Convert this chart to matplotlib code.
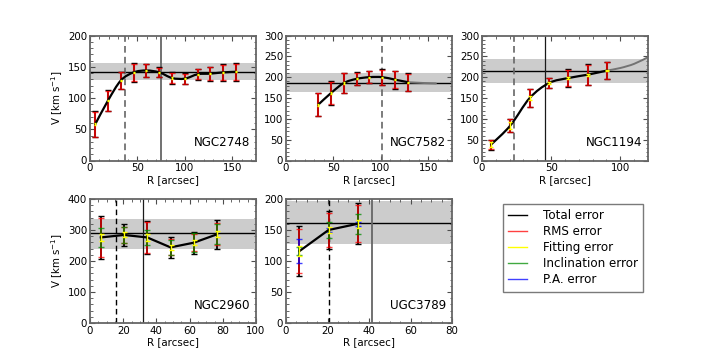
import numpy as np
import matplotlib
matplotlib.use("Agg")
import matplotlib.pyplot as plt
from matplotlib.path import Path
from matplotlib.patches import PathPatch
from matplotlib.lines import Line2D
from matplotlib.ticker import AutoMinorLocator, MultipleLocator

# ---------------- data ----------------
# NGC2748
r1 = [5.5, 19, 32.5, 46, 59.5, 73, 86.5, 100, 113.5, 127, 140.5, 154]
v1 = [58, 96, 128, 141, 144, 141, 132, 131, 138, 139, 141, 142]
tot1 = [21, 17, 14, 15, 11, 8, 9, 9, 9, 11, 13, 14]
rms1 = [20, 16, 13, 14, 10, 7, 8, 8, 8, 10.5, 12, 13]
fit1 = [1.5, 1.5, 1, 1, 1, 1, 1, 1, 1, 1, 1, 1]
vflat1, band1 = 142, (129, 156)
dash1, solid1 = 37, 75

# NGC7582
r2 = [34, 47.5, 61, 74.5, 88, 101.5, 115, 128.5]
v2 = [134, 162, 186, 196, 200, 200, 194, 188]
tot2 = [28, 28, 25, 15.5, 15, 19, 22, 21]
rms2 = [27, 27, 24, 14.5, 14, 18, 21, 20]
fit2 = [2, 2, 1.5, 1.5, 1.5, 1.5, 1.5, 1.5]
r2_ext = [128.5, 145, 158]
v2_ext = [188, 186, 185]
vflat2, band2 = 186, (165, 209)
dash2 = 101.7

# NGC1194
r3 = [6.5, 20.5, 34.5, 48.5, 62.5, 76.5, 90.5]
v3 = [38, 84, 150, 186, 198, 206, 216]
tot3 = [12, 16, 22, 12, 21, 25, 21]
rms3 = [11, 15, 21, 11, 20, 24, 20]
fit3 = [6, 8, 4, 3, 2, 2, 2]
r3_ext = [90.5, 100, 110, 120]
v3_ext = [216, 222, 232, 248]
vflat3, band3 = 215, (187, 243)
dash3, solid3 = 22.9, 45.3

# NGC2960
r4 = [6.5, 20.5, 34.5, 48.5, 62.5, 76.5]
v4 = [276, 284, 276, 244, 259, 286]
tot4 = [69, 36, 53, 35, 36, 47]
rms4 = [64, 25, 49, 26, 27, 35]
inc4 = [31, 27, 25, 25, 30, 32]
fit4 = [11, 8, 10, 8, 8, 10]
vflat4, band4 = 289, (240, 335)
dash4, solid4 = 15.5, 32

# UGC3789
r5 = [6.5, 20.5, 34.5]
v5 = [116, 150, 160]
tot5 = [40, 30, 33]
rms5 = [36, 27, 30]
pa5 = [20, 3, 3]
inc5 = [6, 13, 16]
fit5 = [8, 5, 6]
vflat5, band5 = 161, (128, 196)
dash5, solid5 = 20.5, 41.5

names = ["NGC2748", "NGC7582", "NGC1194", "NGC2960", "UGC3789"]
legend_labels = ["Total error", "RMS error", "Fitting error",
                 "Inclination error", "P.A. error"]

C_TOT = "black"
C_RMS = (1.0, 0.0, 0.0, 0.75)
C_FIT = (1.0, 1.0, 0.0, 1.0)
C_INC = (0.0, 0.55, 0.0, 0.75)
C_PA = (0.0, 0.0, 1.0, 0.75)

plt.rcParams["font.family"] = ["DejaVu Sans"]
fig = plt.figure(figsize=(7.2, 3.6), dpi=100)

W = 166 / 720
positions = [
    [90 / 720, 1 - 160.5 / 360, W, 125 / 360],
    [286 / 720, 1 - 160.5 / 360, W, 125 / 360],
    [482 / 720, 1 - 160.5 / 360, W, 125 / 360],
    [90 / 720, 1 - 323 / 360, W, 124 / 360],
    [286 / 720, 1 - 323 / 360, W, 124 / 360],
]


def smooth_curve(ax, x, y, color, lw, z=5):
    """Catmull-Rom curve through the data drawn as a cubic Bezier path."""
    P = np.column_stack([x, y]).astype(float)
    n = len(P)
    verts = [P[0]]
    codes = [Path.MOVETO]
    for i in range(n - 1):
        p0 = P[i - 1] if i > 0 else P[i]
        p1 = P[i]
        p2 = P[i + 1]
        p3 = P[i + 2] if i + 2 < n else P[i + 1]
        c1 = p1 + (p2 - p0) / 6.0
        c2 = p2 - (p3 - p1) / 6.0
        verts += [c1, c2, p2]
        codes += [Path.CURVE4] * 3
    patch = PathPatch(Path(verts, codes), facecolor="none", edgecolor=color,
                      lw=lw, zorder=z, capstyle="round", joinstyle="round")
    ax.add_patch(patch)


def eb(ax, x, y, e, color, lw=1.3, z=3, cap=2.5):
    ax.errorbar(x, y, yerr=e, fmt="none", ecolor=color, elinewidth=lw,
                capsize=cap, capthick=1.0, zorder=z)


def style(ax, xlim, ylim, xmaj, ymaj, ylabel=False):
    ax.set_xlim(*xlim)
    ax.set_ylim(*ylim)
    ax.xaxis.set_major_locator(MultipleLocator(xmaj))
    ax.yaxis.set_major_locator(MultipleLocator(ymaj))
    ax.xaxis.set_minor_locator(AutoMinorLocator())
    ax.yaxis.set_minor_locator(AutoMinorLocator())
    ax.tick_params(which="both", direction="in", top=True, right=True,
                   labelsize=7.4, pad=2, color="0.3")
    ax.tick_params(which="major", length=3.5, width=0.8)
    ax.tick_params(which="minor", length=1.8, width=0.6)
    for s in ax.spines.values():
        s.set_color("0.4")
        s.set_linewidth(1.3)
    ax.set_xlabel("R [arcsec]", fontsize=7.4, labelpad=1)
    if ylabel:
        ax.set_ylabel("V [km s$^{-1}$]", fontsize=7.4, labelpad=2)


axes = [fig.add_axes(p) for p in positions]

# Panel 1
ax = axes[0]
ax.axhspan(*band1, color="0.8", lw=0, zorder=0)
ax.axhline(vflat1, color="black", lw=1.0, zorder=2)
ax.axvline(dash1, color="0.4", lw=1.2, ls=(0, (4, 2.5)), zorder=2)
ax.axvline(solid1, color="0.4", lw=1.3, zorder=2)
eb(ax, r1, v1, tot1, C_TOT)
eb(ax, r1, v1, rms1, C_RMS, lw=1.5)
smooth_curve(ax, r1, v1, "black", 1.6)
eb(ax, r1, v1, fit1, C_FIT, lw=1.0, z=6, cap=1.0)
style(ax, (0, 175), (0, 200), 50, 50, ylabel=True)

# Panel 2
ax = axes[1]
ax.axhspan(*band2, color="0.8", lw=0, zorder=0)
ax.axhline(vflat2, color="black", lw=1.0, zorder=2)
ax.axvline(dash2, color="0.4", lw=1.2, ls=(0, (4, 2.5)), zorder=2)
smooth_curve(ax, r2_ext, v2_ext, "0.45", 1.4, z=2.5)
eb(ax, r2, v2, tot2, C_TOT)
eb(ax, r2, v2, rms2, C_RMS, lw=1.5)
smooth_curve(ax, r2, v2, "black", 1.6)
eb(ax, r2, v2, fit2, C_FIT, lw=1.0, z=6, cap=1.0)
style(ax, (0, 175), (0, 300), 50, 50)

# Panel 3
ax = axes[2]
ax.axhspan(*band3, color="0.8", lw=0, zorder=0)
ax.axhline(vflat3, color="black", lw=1.0, zorder=2)
ax.axvline(dash3, color="0.4", lw=1.2, ls=(0, (4, 2.5)), zorder=2)
ax.axvline(solid3, color="0.1", lw=0.9, zorder=2)
smooth_curve(ax, r3_ext, v3_ext, "0.45", 1.4, z=2.5)
eb(ax, r3, v3, tot3, C_TOT)
eb(ax, r3, v3, rms3, C_RMS, lw=1.5)
smooth_curve(ax, r3, v3, "black", 1.6)
eb(ax, r3, v3, fit3, C_FIT, lw=1.0, z=6, cap=1.5)
style(ax, (0, 120), (0, 300), 50, 50)

# Panel 4
ax = axes[3]
ax.axhspan(*band4, color="0.8", lw=0, zorder=0)
ax.axhline(vflat4, color="black", lw=1.0, zorder=2)
ax.axvline(dash4, color="black", lw=1.0, ls=(0, (4, 2.5)), zorder=2)
ax.axvline(solid4, color="0.1", lw=0.9, zorder=2)
eb(ax, r4, v4, tot4, C_TOT)
eb(ax, r4, v4, rms4, C_RMS)
eb(ax, r4, v4, inc4, C_INC)
ax.plot(r4, v4, color="black", lw=1.6, zorder=5)
eb(ax, r4, v4, fit4, C_FIT, lw=1.0, z=6, cap=1.8)
style(ax, (0, 100), (0, 400), 20, 100, ylabel=True)

# Panel 5
ax = axes[4]
ax.axhspan(*band5, color="0.8", lw=0, zorder=0)
ax.axhline(vflat5, color="black", lw=1.0, zorder=2)
ax.axvline(dash5, color="black", lw=1.0, ls=(0, (4, 2.5)), zorder=2)
ax.axvline(solid5, color="0.4", lw=1.3, zorder=2)
eb(ax, r5, v5, tot5, C_TOT)
eb(ax, r5, v5, rms5, C_RMS)
eb(ax, r5, v5, pa5, C_PA)
eb(ax, r5, v5, inc5, C_INC)
ax.plot(r5, v5, color="black", lw=1.6, zorder=5)
eb(ax, r5, v5, fit5, C_FIT, lw=1.0, z=6, cap=1.8)
style(ax, (0, 80), (0, 200), 20, 50)

for ax, nm in zip(axes, names):
    ax.text(0.965, 0.09, nm, transform=ax.transAxes, ha="right", va="bottom",
            fontsize=8.6, zorder=10)

handles = [Line2D([], [], color=c, lw=1.0) for c in
           [C_TOT, C_RMS, C_FIT, C_INC, C_PA]]
leg = fig.legend(handles, legend_labels, loc="upper left",
                 bbox_to_anchor=(503 / 720, 1 - 204 / 360), fontsize=8.6,
                 frameon=True, fancybox=False, borderaxespad=0,
                 handlelength=1.6, handletextpad=1.3, labelspacing=0.25,
                 borderpad=0.45)
leg.get_frame().set_edgecolor("0.35")
leg.get_frame().set_linewidth(1.0)

fig.savefig("out.png", dpi=100)
